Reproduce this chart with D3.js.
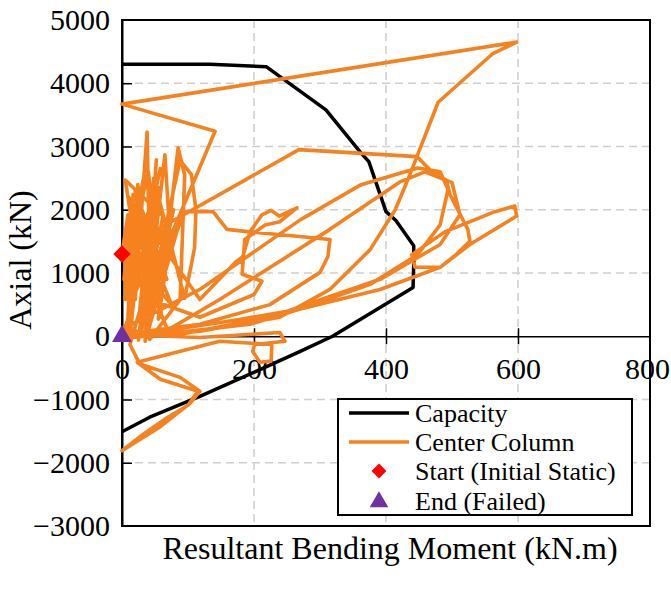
<!DOCTYPE html>
<html>
<head>
<meta charset="utf-8">
<script src="https://cdn.jsdelivr.net/npm/d3@7"></script>
<style>
  body { margin: 0; background: #fff; }
  text { font-family: "Liberation Serif", "Times New Roman", serif; fill: #000; }
</style>
</head>
<body>
<svg id="chart" width="671" height="592"></svg>
<script>
// Axis ticks
const momentTicks = [0, 200, 400, 600, 800];
const axialTicks = [-3000, -2000, -1000, 0, 1000, 2000, 3000, 4000, 5000];

// P-M interaction capacity envelope [moment kN.m, axial kN]
const capacity = [
  [0, 4300], [133, 4300], [219, 4260], [309, 3580], [362, 2900], [374, 2760],
  [400, 1970], [415, 1830], [442, 1430], [442, 1130], [441, 770], [319, 0],
  [270, -240], [204, -550], [118, -950], [42, -1280], [0, -1510]
];

// Center column response history [moment kN.m, axial kN]
const centerColumn = [
  [0, 1300], [9, 1920], [5, 580], [17, 2240], [8, 30], [24, 1760], [12, 270],
  [14, 2100], [3, 900], [22, 1850], [10, 200], [30, 2050], [18, 700], [45, 1600],
  [25, -60], [50, 2200], [8, 1200], [36, 1900], [60, 300], [40, 2600], [15, 1500],
  [32, 2470], [20, 580], [38, 3230], [42, 1060], [52, 2790], [35, 110], [65, 2870],
  [73, 1530], [55, 270], [85, 2980], [95, 2550], [88, 580], [42, -50], [5, 2470],
  [62, 1900], [28, 50], [55, 2350], [12, 1000], [70, 1650], [33, 150],
  [88, 2780], [105, 2560], [112, 2000], [110, 1400], [95, 600], [48, 2500],
  [27, 430], [141, 3240], [0, 3670], [598, 4650], [562, 4470], [479, 3700],
  [451, 2950], [436, 2550], [414, 2000], [376, 1370], [315, 740], [239, 300],
  [118, 80], [12, -20], [27, 1530], [268, 2950], [447, 2840], [467, 2630],
  [491, 2470], [497, 2240], [524, 1690], [527, 1500], [505, 1280], [482, 1090],
  [444, 1090], [439, 1290], [489, 1650], [565, 1970], [595, 2060], [598, 1900],
  [527, 1450], [482, 1090], [391, 740], [270, 430], [164, 240], [42, 50], [0, 110],
  [118, 740], [270, 1840], [361, 2390], [448, 2660], [482, 2600], [494, 2320],
  [482, 1760], [448, 1290], [376, 820], [270, 430], [194, 190], [58, 30],
  [148, 580], [315, 1690], [421, 2440], [459, 2600], [500, 2430], [512, 1920],
  [482, 1450], [391, 900], [224, 300], [73, 0],
  [6, 1700], [68, 900], [20, 2300], [44, 400], [78, 2000], [16, 600], [58, 2650],
  [26, 1100], [75, 500], [10, 2200],
  [118, 580], [173, 1180], [183, 1260], [194, 1650], [212, 1920], [226, 1990],
  [238, 1900], [265, 2030], [239, 1810], [217, 1760], [186, 1530], [182, 980],
  [212, 870], [200, 660], [118, 300], [42, 580],
  [95, 1970], [138, 1970], [159, 1690], [194, 1650], [285, 1560], [315, 1530],
  [312, 1260], [300, 1010], [224, 500], [118, 190],
  [0, 30], [118, -20], [239, 60], [247, -80], [201, -130], [198, -240],
  [209, -410], [226, -390], [227, -130], [148, -80], [23, -410], [58, -680],
  [115, -870], [100, -1090], [65, -1310], [27, -1590], [0, -1810], [58, -1430],
  [103, -1060], [118, -870], [88, -650], [27, -440], [12, -130],
  [52, 1300], [35, -80], [90, 1900], [40, 700], [24, 2400],
  [20, 900], [6, 1530], [27, 2160], [15, 740], [42, 1690], [9, 270], [0, 0]
];

const startPoint = [0, 1300];
const endPoint = [0, 0];

const legendLabels = ["Capacity", "Center Column", "Start (Initial Static)", "End (Failed)"];
const colors = { capacity: "#000000", center: "#f5821f", start: "#ff0000", end: "#7030a0" };
const serif = "'Liberation Serif', 'Times New Roman', serif";

const svg = d3.select("#chart");
const x = d3.scaleLinear().domain([0, 800]).range([122, 650]);
const y = d3.scaleLinear().domain([-3000, 5000]).range([526, 20]);

// Dashed grid
const grid = svg.append("g").attr("stroke", "#cfcfcf").attr("stroke-width", 1.6)
  .attr("stroke-dasharray", "8,5");
grid.selectAll("line.v").data(momentTicks.filter(d => d > 0 && d < 800)).join("line")
  .attr("x1", d => x(d)).attr("x2", d => x(d)).attr("y1", y(5000)).attr("y2", y(-3000));
grid.selectAll("line.h").data(axialTicks.filter(d => d !== 0 && d > -3000 && d < 5000)).join("line")
  .attr("x1", x(0)).attr("x2", x(800)).attr("y1", d => y(d)).attr("y2", d => y(d));

// Frame
svg.append("rect").attr("x", x(0)).attr("y", y(5000))
  .attr("width", x(800) - x(0)).attr("height", y(-3000) - y(5000))
  .attr("fill", "none").attr("stroke", "#000").attr("stroke-width", 2);

// Y axis (inner ticks)
const yAxis = svg.append("g").attr("transform", `translate(${x(0)},0)`)
  .call(d3.axisLeft(y).tickValues(axialTicks).tickFormat(d3.format("d"))
    .tickSize(-10).tickSizeOuter(0).tickPadding(12));
yAxis.attr("font-family", null);
yAxis.select(".domain").attr("stroke-width", 2);
yAxis.selectAll(".tick line").attr("stroke-width", 1.5)
  .filter(d => d === 5000 || d === -3000).remove();
yAxis.selectAll(".tick text").attr("font-size", 30).style("font-family", serif);

// X axis through zero axial load (crossing ticks)
const xAxis = svg.append("g").attr("transform", `translate(0,${y(0)})`)
  .call(d3.axisBottom(x).tickValues(momentTicks).tickFormat(d3.format("d"))
    .tickSize(8).tickSizeOuter(0).tickPadding(13));
xAxis.attr("font-family", null);
xAxis.select(".domain").attr("stroke-width", 1.6);
xAxis.selectAll(".tick line").attr("y1", -8).attr("stroke-width", 1.5)
  .filter(d => d === 0 || d === 800).remove();
xAxis.selectAll(".tick text").attr("font-size", 30).style("font-family", serif)
  .attr("dx", d => d === 800 ? -3 : 0);

const line = d3.line().x(d => x(d[0])).y(d => y(d[1]));

// Capacity envelope
svg.append("path").datum(capacity).attr("d", line)
  .attr("fill", "none").attr("stroke", colors.capacity).attr("stroke-width", 3.5)
  .attr("stroke-linejoin", "round");

// Center column path
svg.append("path").datum(centerColumn).attr("d", line)
  .attr("fill", "none").attr("stroke", colors.center).attr("stroke-width", 3.6)
  .attr("stroke-linejoin", "round").attr("stroke-linecap", "round");

// Start / end markers
const diamond = d3.symbol().type(d3.symbolSquare).size(150);
const triangle = d3.symbol().type(d3.symbolTriangle).size(170);
svg.append("path").attr("d", diamond)
  .attr("transform", `translate(${x(startPoint[0])},${y(startPoint[1])}) rotate(45)`)
  .attr("fill", colors.start);
svg.append("path").attr("d", triangle)
  .attr("transform", `translate(${x(endPoint[0])},${y(endPoint[1])})`)
  .attr("fill", colors.end);

// Axis titles
svg.append("text").attr("x", 390).attr("y", 559).attr("text-anchor", "middle")
  .attr("font-size", 32).style("font-family", serif).text("Resultant Bending Moment (kN.m)");
svg.append("text").attr("transform", "translate(31,260) rotate(-90)")
  .attr("text-anchor", "middle").attr("font-size", 32).style("font-family", serif).text("Axial (kN)");

// Legend
const lg = svg.append("g");
lg.append("rect").attr("x", 338).attr("y", 399).attr("width", 294).attr("height", 116)
  .attr("fill", "#fff").attr("stroke", "#000").attr("stroke-width", 2);
const rowY = [413, 442, 471, 501];
lg.append("line").attr("x1", 349).attr("x2", 409).attr("y1", rowY[0]).attr("y2", rowY[0])
  .attr("stroke", colors.capacity).attr("stroke-width", 3.5);
lg.append("line").attr("x1", 349).attr("x2", 409).attr("y1", rowY[1]).attr("y2", rowY[1])
  .attr("stroke", colors.center).attr("stroke-width", 3.5);
lg.append("path").attr("d", d3.symbol().type(d3.symbolSquare).size(110))
  .attr("transform", `translate(379,${rowY[2]}) rotate(45)`).attr("fill", colors.start);
lg.append("path").attr("d", d3.symbol().type(d3.symbolTriangle).size(150))
  .attr("transform", `translate(379,${rowY[3] + 1})`).attr("fill", colors.end);
lg.selectAll("text").data(legendLabels).join("text")
  .attr("x", 415).attr("y", (d, i) => rowY[i]).attr("dy", "0.35em")
  .attr("font-size", 26).style("font-family", serif).text(d => d);
</script>
</body>
</html>
